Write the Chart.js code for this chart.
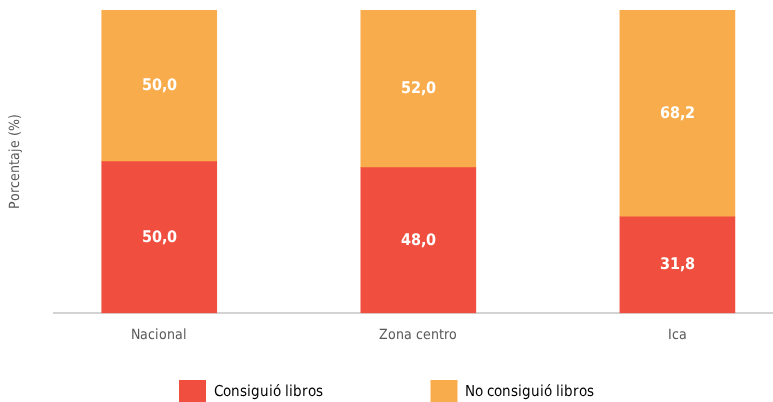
<!DOCTYPE html>
<html lang="es">
<head>
<meta charset="UTF-8">
<title>Libros</title>
<script src="https://cdn.jsdelivr.net/npm/chart.js"></script>
<style>
  @font-face { font-family: 'Narrow'; font-weight: 400;
    src: local('Liberation Sans Narrow'), local('LiberationSansNarrow'), local('LiberationSansNarrow-Regular'), local('DejaVu Sans Condensed'), local('DejaVuSansCondensed'); }
  @font-face { font-family: 'Narrow'; font-weight: 700;
    src: local('Liberation Sans Narrow Bold'), local('LiberationSansNarrow-Bold'), local('DejaVu Sans Condensed Bold'), local('DejaVuSansCondensed-Bold'); }
  html, body { margin: 0; padding: 0; background: #fff; }
  #wrap { width: 773px; height: 402px; }
</style>
</head>
<body>
<div id="wrap"><canvas id="chart"></canvas></div>
<script>
const categories = ['Nacional', 'Zona centro', 'Ica'];
const consiguio = [50.0, 48.0, 31.8];
const noConsiguio = [50.0, 52.0, 68.2];
const seriesNames = ['Consiguió libros', 'No consiguió libros'];

const FONT = "Narrow, sans-serif";
const RED = '#f04e3e';
const ORANGE = '#f9ac4b';
const GREY = '#58595b';
const LEGEND_SIZE = 15;
// width each legend text should take up (label + trailing gap)
const legendTextWidths = [218, 0];

function toPoints(values) {
    return values.map((v, i) => ({ x: i, y: v }));
}

// pad legend text with spaces so the two items sit apart like the original
function padLabel(ctx, text, width) {
    ctx.save();
    ctx.font = LEGEND_SIZE + 'px ' + FONT;
    let s = text;
    while (ctx.measureText(s + ' ').width <= width) s += ' ';
    ctx.restore();
    return s;
}

// white value labels centered in each segment
const valueLabels = {
    id: 'valueLabels',
    afterDatasetsDraw(chart) {
        const ctx = chart.ctx;
        ctx.save();
        ctx.fillStyle = '#ffffff';
        ctx.font = "bold 16px " + FONT;
        ctx.textAlign = 'center';
        ctx.textBaseline = 'middle';
        chart.data.datasets.forEach((ds, di) => {
            chart.getDatasetMeta(di).data.forEach((bar, i) => {
                const v = ds.data[i].y;
                const yMid = (bar.y + bar.base) / 2;
                ctx.fillText(v.toFixed(1).replace('.', ','), bar.x, yMid);
            });
        });
        ctx.restore();
    }
};

function draw() {
    new Chart(document.getElementById('chart'), {
        type: 'bar',
        data: {
            datasets: [
                { label: seriesNames[0], data: toPoints(consiguio), backgroundColor: RED },
                { label: seriesNames[1], data: toPoints(noConsiguio), backgroundColor: ORANGE }
            ]
        },
        options: {
            responsive: true,
            maintainAspectRatio: false,
            animation: false,
            barThickness: 115,
            layout: { padding: { top: 10, left: 0, right: 0, bottom: -12 } },
            scales: {
                x: {
                    type: 'linear',
                    stacked: true,
                    offset: false,
                    min: -0.407,
                    max: 2.369,
                    afterBuildTicks(scale) {
                        scale.ticks = categories.map((c, i) => ({ value: i }));
                    },
                    afterFit(scale) {
                        scale.height += 22;
                    },
                    ticks: {
                        color: GREY,
                        font: { family: FONT, size: 14 },
                        padding: 14,
                        callback: v => categories[v] || ''
                    },
                    grid: { display: false, drawTicks: false },
                    border: { display: true, color: '#d3d3d3', width: 2 }
                },
                y: {
                    stacked: true,
                    min: 0,
                    max: 100,
                    ticks: { display: false },
                    grid: { display: false, drawTicks: false },
                    border: { display: false },
                    title: {
                        display: true,
                        text: 'Porcentaje (%)',
                        color: GREY,
                        font: { family: FONT, size: 14 },
                        padding: { top: 7, bottom: 30 }
                    }
                }
            },
            plugins: {
                tooltip: { enabled: false },
                legend: {
                    position: 'bottom',
                    labels: {
                        boxWidth: 27,
                        boxHeight: 24,
                        padding: 0,
                        color: GREY,
                        font: { family: FONT, size: LEGEND_SIZE },
                        generateLabels(chart) {
                            return chart.data.datasets.map((ds, i) => ({
                                text: padLabel(chart.ctx, ds.label, legendTextWidths[i]),
                                fillStyle: ds.backgroundColor,
                                strokeStyle: ds.backgroundColor,
                                lineWidth: 0,
                                datasetIndex: i
                            }));
                        }
                    }
                }
            }
        },
        plugins: [valueLabels]
    });
}

Promise.all([
    document.fonts.load("16px Narrow"),
    document.fonts.load("bold 16px Narrow")
]).then(draw, draw);
</script>
</body>
</html>
